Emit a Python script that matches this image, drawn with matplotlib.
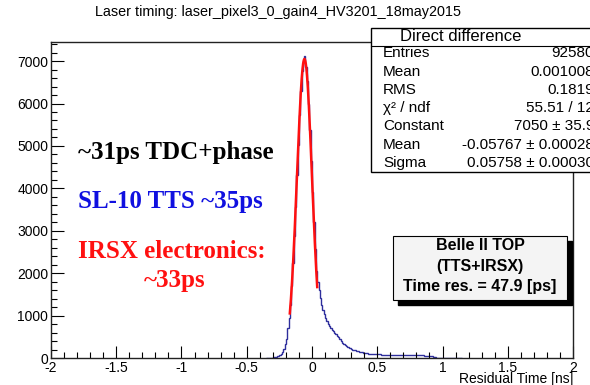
import numpy as np
import matplotlib
matplotlib.use("Agg")
import matplotlib.pyplot as plt
from matplotlib.ticker import MultipleLocator
from matplotlib.patches import Rectangle

plt.rcParams["font.family"] = ["Liberation Sans", "DejaVu Sans"]

# histogram: 0.01 ns bins from -0.35 to 1.15 ns
bin_lo = -0.35
bin_w = 0.01
counts = [0, 0, 3, 6, 10, 15, 22, 30, 40, 52,
          68, 90, 150, 220, 320, 450, 700, 950, 1260, 1700,
          2230, 2880, 3550, 4310, 5020, 5730, 6290, 6760, 7000, 7110,
          6870, 6540, 5990, 5370, 4650, 3920, 3200, 2560, 2060, 1800,
          1600, 1420, 1260, 1130, 1030, 940, 870, 810, 760, 710,
          670, 630, 595, 560, 525, 485, 445, 400, 360, 330,
          300, 280, 260, 242, 226, 212, 200, 190, 180, 170,
          160, 150, 140, 132, 125, 120, 115, 110, 106, 102,
          98, 95, 92, 90, 88, 86, 85, 84, 82, 80,
          78, 77, 75, 74, 72, 70, 70, 68, 66, 65,
          64, 62, 62, 60, 60, 62, 64, 66, 70, 72,
          74, 75, 76, 75, 74, 72, 70, 68, 66, 62,
          60, 58, 56, 55, 54, 52, 50, 40, 25, 15,
          12, 10, 9, 8, 8, 7, 7, 6, 6, 5,
          5, 4, 4, 3, 3, 2, 2, 1, 0, 0]

# gaussian fit (values from the stats box)
fit_const = 7050
fit_mean = -0.05767
fit_sigma = 0.05758
fit_range = (-0.17, 0.04)

xticks = [-2, -1.5, -1, -0.5, 0, 0.5, 1, 1.5, 2]
xtick_labels = ["-2", "-1.5", "-1", "-0.5", "0", "0.5", "1", "1.5", "2"]
yticks = [0, 1000, 2000, 3000, 4000, 5000, 6000, 7000]
ytick_labels = ["0", "1000", "2000", "3000", "4000", "5000", "6000", "7000"]

stat_names = ["Entries", "Mean", "RMS", "χ² / ndf", "Constant", "Mean", "Sigma"]
stat_values = ["92580", "0.001008", "0.1819", "55.51 / 12", "7050 ± 35.9",
               "-0.05767 ± 0.00028", "0.05758 ± 0.00030"]

fig = plt.figure(figsize=(5.9, 3.85), dpi=100)
ax = fig.add_axes([0.0864, 0.0701, 0.8848, 0.8208])

edges = bin_lo + bin_w * np.arange(len(counts) + 1)
ax.stairs(counts, edges, color="#2e2e9c", linewidth=1.0)

xf = np.linspace(fit_range[0], fit_range[1], 200)
yf = fit_const * np.exp(-0.5 * ((xf - fit_mean) / fit_sigma) ** 2)
ax.plot(xf, yf, color="#ff1010", linewidth=1.8)

ax.set_xlim(-2, 2)
ax.set_ylim(0, 7450)
ax.set_xticks(xticks)
ax.set_xticklabels(xtick_labels, fontsize=10)
ax.set_yticks(yticks)
ax.set_yticklabels(ytick_labels, fontsize=10)
ax.xaxis.set_minor_locator(MultipleLocator(0.1))
ax.yaxis.set_minor_locator(MultipleLocator(200))
ax.tick_params(which="major", direction="in", length=9, width=0.8, pad=2)
ax.tick_params(which="minor", direction="in", length=4.5, width=0.8)
for s in ax.spines.values():
    s.set_linewidth(1.0)
    s.set_color("#222222")

fig.text(278 / 590, 0.969, "Laser timing: laser_pixel3_0_gain4_HV3201_18may2015",
         ha="center", va="center", fontsize=10.4)
fig.text(0.971, 0.016, "Residual Time [ns]", ha="right", va="center", fontsize=10)

# stats box
fig.patches.append(Rectangle((0.628, 0.553), 0.4, 0.374, transform=fig.transFigure,
                             facecolor="white", edgecolor="black", linewidth=1.0))
fig.lines.append(plt.Line2D([0.628, 1.0], [0.881, 0.881], transform=fig.transFigure,
                            color="black", linewidth=0.8))
fig.text(461 / 590, 1 - 36.5 / 385, "Direct difference", ha="center", va="center", fontsize=12)
row_y = [53, 71.5, 90, 108, 126.5, 145, 163]
for name, val, py in zip(stat_names, stat_values, row_y):
    fig.text(383 / 590, 1 - py / 385, name, ha="left", va="center", fontsize=11)
    fig.text(594 / 590, 1 - py / 385, val, ha="right", va="center", fontsize=11)

# colored notes
serif = ["Liberation Serif", "DejaVu Serif"]
fig.text(78 / 590, 1 - 152 / 385, "~31ps TDC+phase", color="black", family=serif,
         fontweight="bold", fontsize=18, ha="left", va="center")
fig.text(78 / 590, 1 - 202 / 385, "SL-10 TTS ~35ps", color="#1010e0", family=serif,
         fontweight="bold", fontsize=18, ha="left", va="center")
fig.text(78 / 590, 1 - 252 / 385, "IRSX electronics:", color="#ff1010", family=serif,
         fontweight="bold", fontsize=18, ha="left", va="center")
fig.text(175 / 590, 1 - 281 / 385, "~33ps", color="#ff1010", family=serif,
         fontweight="bold", fontsize=18, ha="center", va="center")

# Belle II box with shadow
bx0, by0, bw, bh = 393 / 590, 1 - 300 / 385, 174 / 590, 64 / 385
fig.patches.append(Rectangle((bx0 + 5 / 590, by0 - 5 / 385), bw, bh, transform=fig.transFigure,
                             facecolor="black", edgecolor="black"))
fig.patches.append(Rectangle((bx0, by0), bw, bh, transform=fig.transFigure,
                             facecolor="#f4f4f4", edgecolor="black", linewidth=0.8))
for txt, py in zip(["Belle II TOP", "(TTS+IRSX)", "Time res. = 47.9 [ps]"], [246, 266, 287]):
    fig.text(480 / 590, 1 - py / 385, txt, ha="center", va="center",
             fontsize=11.5, fontweight="bold")

fig.savefig("out.png", dpi=100)
